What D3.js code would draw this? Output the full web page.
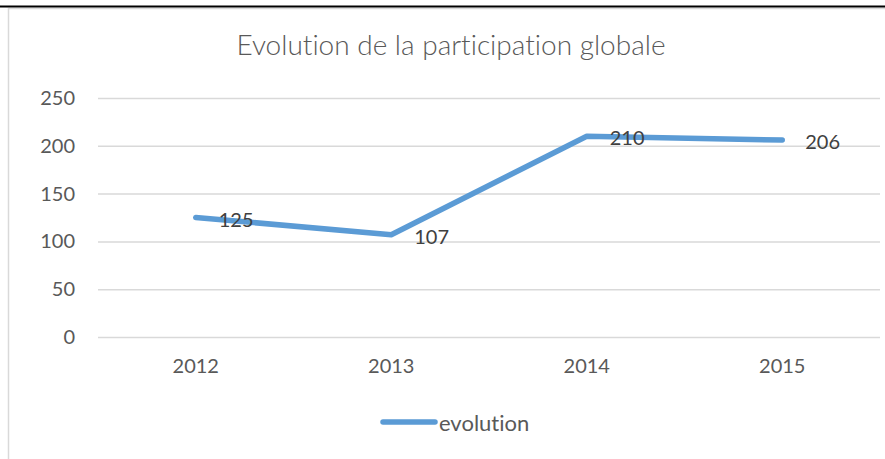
<!DOCTYPE html>
<html>
<head>
<meta charset="utf-8">
<script src="https://cdn.jsdelivr.net/npm/d3@7"></script>
<style>
  body { margin: 0; background: #fff; }
  text { font-family: Lato, "Open Sans", sans-serif; font-variant-ligatures: none; }
</style>
</head>
<body>
<div id="chart"></div>
<script>
const years = ["2012", "2013", "2014", "2015"];
const evolution = [125, 107, 210, 206];
const yTicks = [0, 50, 100, 150, 200, 250];
const seriesName = "evolution";
const chartTitle = "Evolution de la participation globale";

const width = 885, height = 459;

const svg = d3.select("#chart")
    .append("svg")
    .attr("width", width)
    .attr("height", height);

// frame of the chart (goes past the right and bottom edge)
svg.append("rect")
    .attr("x", 8.5).attr("y", 8.5)
    .attr("width", 900).attr("height", 500)
    .attr("fill", "#fff")
    .attr("stroke", "#d9d9d9")
    .attr("stroke-width", 1.5);

// black rule at the top
svg.append("line")
    .attr("x1", 0).attr("x2", width)
    .attr("y1", 6.5).attr("y2", 6.5)
    .attr("stroke", "#000")
    .attr("stroke-width", 2);

const plot = { left: 98, right: 880, top: 98, bottom: 337 };

const x = d3.scaleBand()
    .domain(years)
    .range([plot.left, plot.right]);

const y = d3.scaleLinear()
    .domain([0, 250])
    .range([plot.bottom, plot.top]);

// title
svg.append("text")
    .attr("x", 451)
    .attr("y", 55)
    .attr("text-anchor", "middle")
    .attr("fill", "#595959")
    .style("font-size", "28px")
    .style("font-weight", 300)
    .text(chartTitle);

// gridlines + y labels
const yAxis = svg.append("g")
    .attr("transform", `translate(${plot.left},0)`)
    .call(d3.axisLeft(y).tickValues(yTicks).tickSize(-(plot.right - plot.left)).tickPadding(23));
yAxis.select(".domain").remove();
yAxis.selectAll(".tick line").attr("stroke", "#d9d9d9").attr("stroke-width", 1.5);
yAxis.selectAll(".tick text")
    .attr("fill", "#595959")
    .style("font-size", "20px")
    .style("font-family", "Lato, sans-serif");

// x labels
const xAxis = svg.append("g")
    .attr("transform", `translate(0,${plot.bottom})`)
    .call(d3.axisBottom(x).tickSize(0).tickPadding(22));
xAxis.select(".domain").remove();
xAxis.selectAll(".tick text")
    .attr("fill", "#595959")
    .style("font-size", "20px")
    .style("font-family", "Lato, sans-serif");

const pts = years.map((yr, i) => ({ yr, v: evolution[i] }));

const line = d3.line()
    .x(d => x(d.yr) + x.bandwidth() / 2)
    .y(d => y(d.v));

svg.append("path")
    .datum(pts)
    .attr("d", line)
    .attr("fill", "none")
    .attr("stroke", "#5b9bd5")
    .attr("stroke-width", 5.5)
    .attr("stroke-linecap", "round")
    .attr("stroke-linejoin", "round");

// data labels, to the right of each point
svg.append("g")
    .selectAll("text")
    .data(pts)
    .join("text")
    .attr("x", d => x(d.yr) + x.bandwidth() / 2 + 23)
    .attr("y", d => y(d.v) + 1)
    .attr("dominant-baseline", "central")
    .attr("fill", "#404040")
    .style("font-size", "20px")
    .text(d => d.v);

// legend
const legend = svg.append("g");
legend.append("line")
    .attr("x1", 383).attr("x2", 435)
    .attr("y1", 422).attr("y2", 422)
    .attr("stroke", "#5b9bd5")
    .attr("stroke-width", 5.5)
    .attr("stroke-linecap", "round");
legend.append("text")
    .attr("x", 439)
    .attr("y", 422)
    .attr("dominant-baseline", "central")
    .attr("fill", "#595959")
    .style("font-size", "22px")
    .text(seriesName);
</script>
</body>
</html>
